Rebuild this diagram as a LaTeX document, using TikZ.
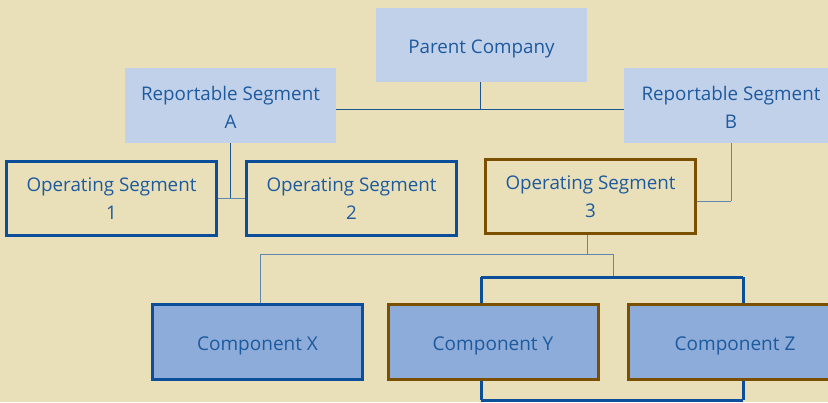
\documentclass[tikz,border=0pt]{standalone}
\usepackage{fontspec}
\setmainfont{Open Sans}
\definecolor{bg}{HTML}{E9E0B9}
\definecolor{lightbox}{HTML}{C2D1EA}
\definecolor{compfill}{HTML}{8DACD9}
\definecolor{darkblue}{HTML}{0B4F9A}
\definecolor{brown}{HTML}{7B4F00}
\definecolor{txt}{HTML}{1D5A9E}
\definecolor{thin}{HTML}{1C5596}
\definecolor{thingray}{HTML}{6188AC}
\newcommand\boxlbl[2][-3pt]{\raisebox{#1}[\height][\depth]{\begin{tabular}{@{}c@{}}#2\end{tabular}}}
\tikzset{
  lbox/.style={fill=lightbox, draw=none, inner sep=0pt, minimum width=211pt, minimum height=75pt, align=center, text=txt, font=\fontsize{18.8}{28}\selectfont},
  opbox/.style={draw=#1, line width=3.3pt, fill=bg, inner sep=0pt, minimum width=210pt, minimum height=74pt, align=center, text=txt, font=\fontsize{18.8}{28}\selectfont},
  compbox/.style={draw=#1, line width=3pt, fill=compfill, inner sep=0pt, minimum width=210pt, minimum height=75pt, align=center, text=txt, font=\fontsize{19}{28}\selectfont},
  thinline/.style={draw=thin, line width=1pt},
  greyline/.style={draw=thingray, line width=1pt},
  bracket/.style={draw=darkblue, line width=3pt}
}
\begin{document}
\begin{tikzpicture}[x=1pt, y=-1pt]
\fill[bg] (0,0) rectangle (828,402);
\useasboundingbox (0,0) rectangle (828,402);
\begin{scope}
\clip (0,0) rectangle (828,402);
\coordinate (j1) at (480,109);
\coordinate (j2) at (230.5,199);
\coordinate (j3) at (731,201);
\coordinate (j4) at (587,254);
\coordinate (jx) at (260,254);
\coordinate (jy) at (613,254);
\coordinate (jb) at (613,277);
\coordinate (b1) at (481,277);
\coordinate (b2) at (743,277);
\coordinate (b3) at (481,400);
\coordinate (b4) at (743,400);

\node[lbox, minimum height=74pt] (parent) at (481.5,45) {\boxlbl{Parent Company}};
\node[lbox] (A) at (230.5,105.5) {\boxlbl{Reportable Segment\\A}};
\node[lbox, minimum width=214pt] (B) at (731,105.5) {\boxlbl{Reportable Segment\\B}};

\draw[thinline] (parent.south -| j1) -- (j1);
\draw[thinline] (A.east |- j1) -- (B.west |- j1);
\draw[thinline] (A.south) -- (j2);
\draw[greyline] (B.south) -- (j3);

\draw[greyline] (jx) -- (jy);
\draw[greyline] (jy) -- (jb);
\draw[bracket] (b1) -- (b2);
\draw[bracket] (b3) -- (b4);

\node[opbox=darkblue] (op1) at (111.5,198.5) {\boxlbl[-1.5pt]{Operating Segment\\1}};
\node[opbox=darkblue] (op2) at (351.5,198.5) {\boxlbl[-1.5pt]{Operating Segment\\2}};
\node[opbox=brown] (op3) at (590.5,196.5) {\boxlbl[-1.5pt]{Operating Segment\\3}};

\draw[greyline] (op1.east) -- (op2.west);
\draw[greyline] (j3) -- (op3.east |- j3);
\draw[greyline] (op3.south -| j4) -- (j4);

\node[compbox=darkblue] (X) at (257.5,342) {\boxlbl{Component X}};
\node[compbox=brown] (Y) at (493,342) {\boxlbl{Component Y}};
\node[compbox=brown, minimum width=214pt] (Z) at (735,342) {\boxlbl{Component Z}};

\draw[greyline] (jx) -- (X.north -| jx);
\draw[bracket] (b1) -- (Y.north -| b1);
\draw[bracket] (b2) -- (Z.north -| b2);
\draw[bracket] (b3) -- (Y.south -| b3);
\draw[bracket] (b4) -- (Z.south -| b4);
\end{scope}
\end{tikzpicture}
\end{document}
